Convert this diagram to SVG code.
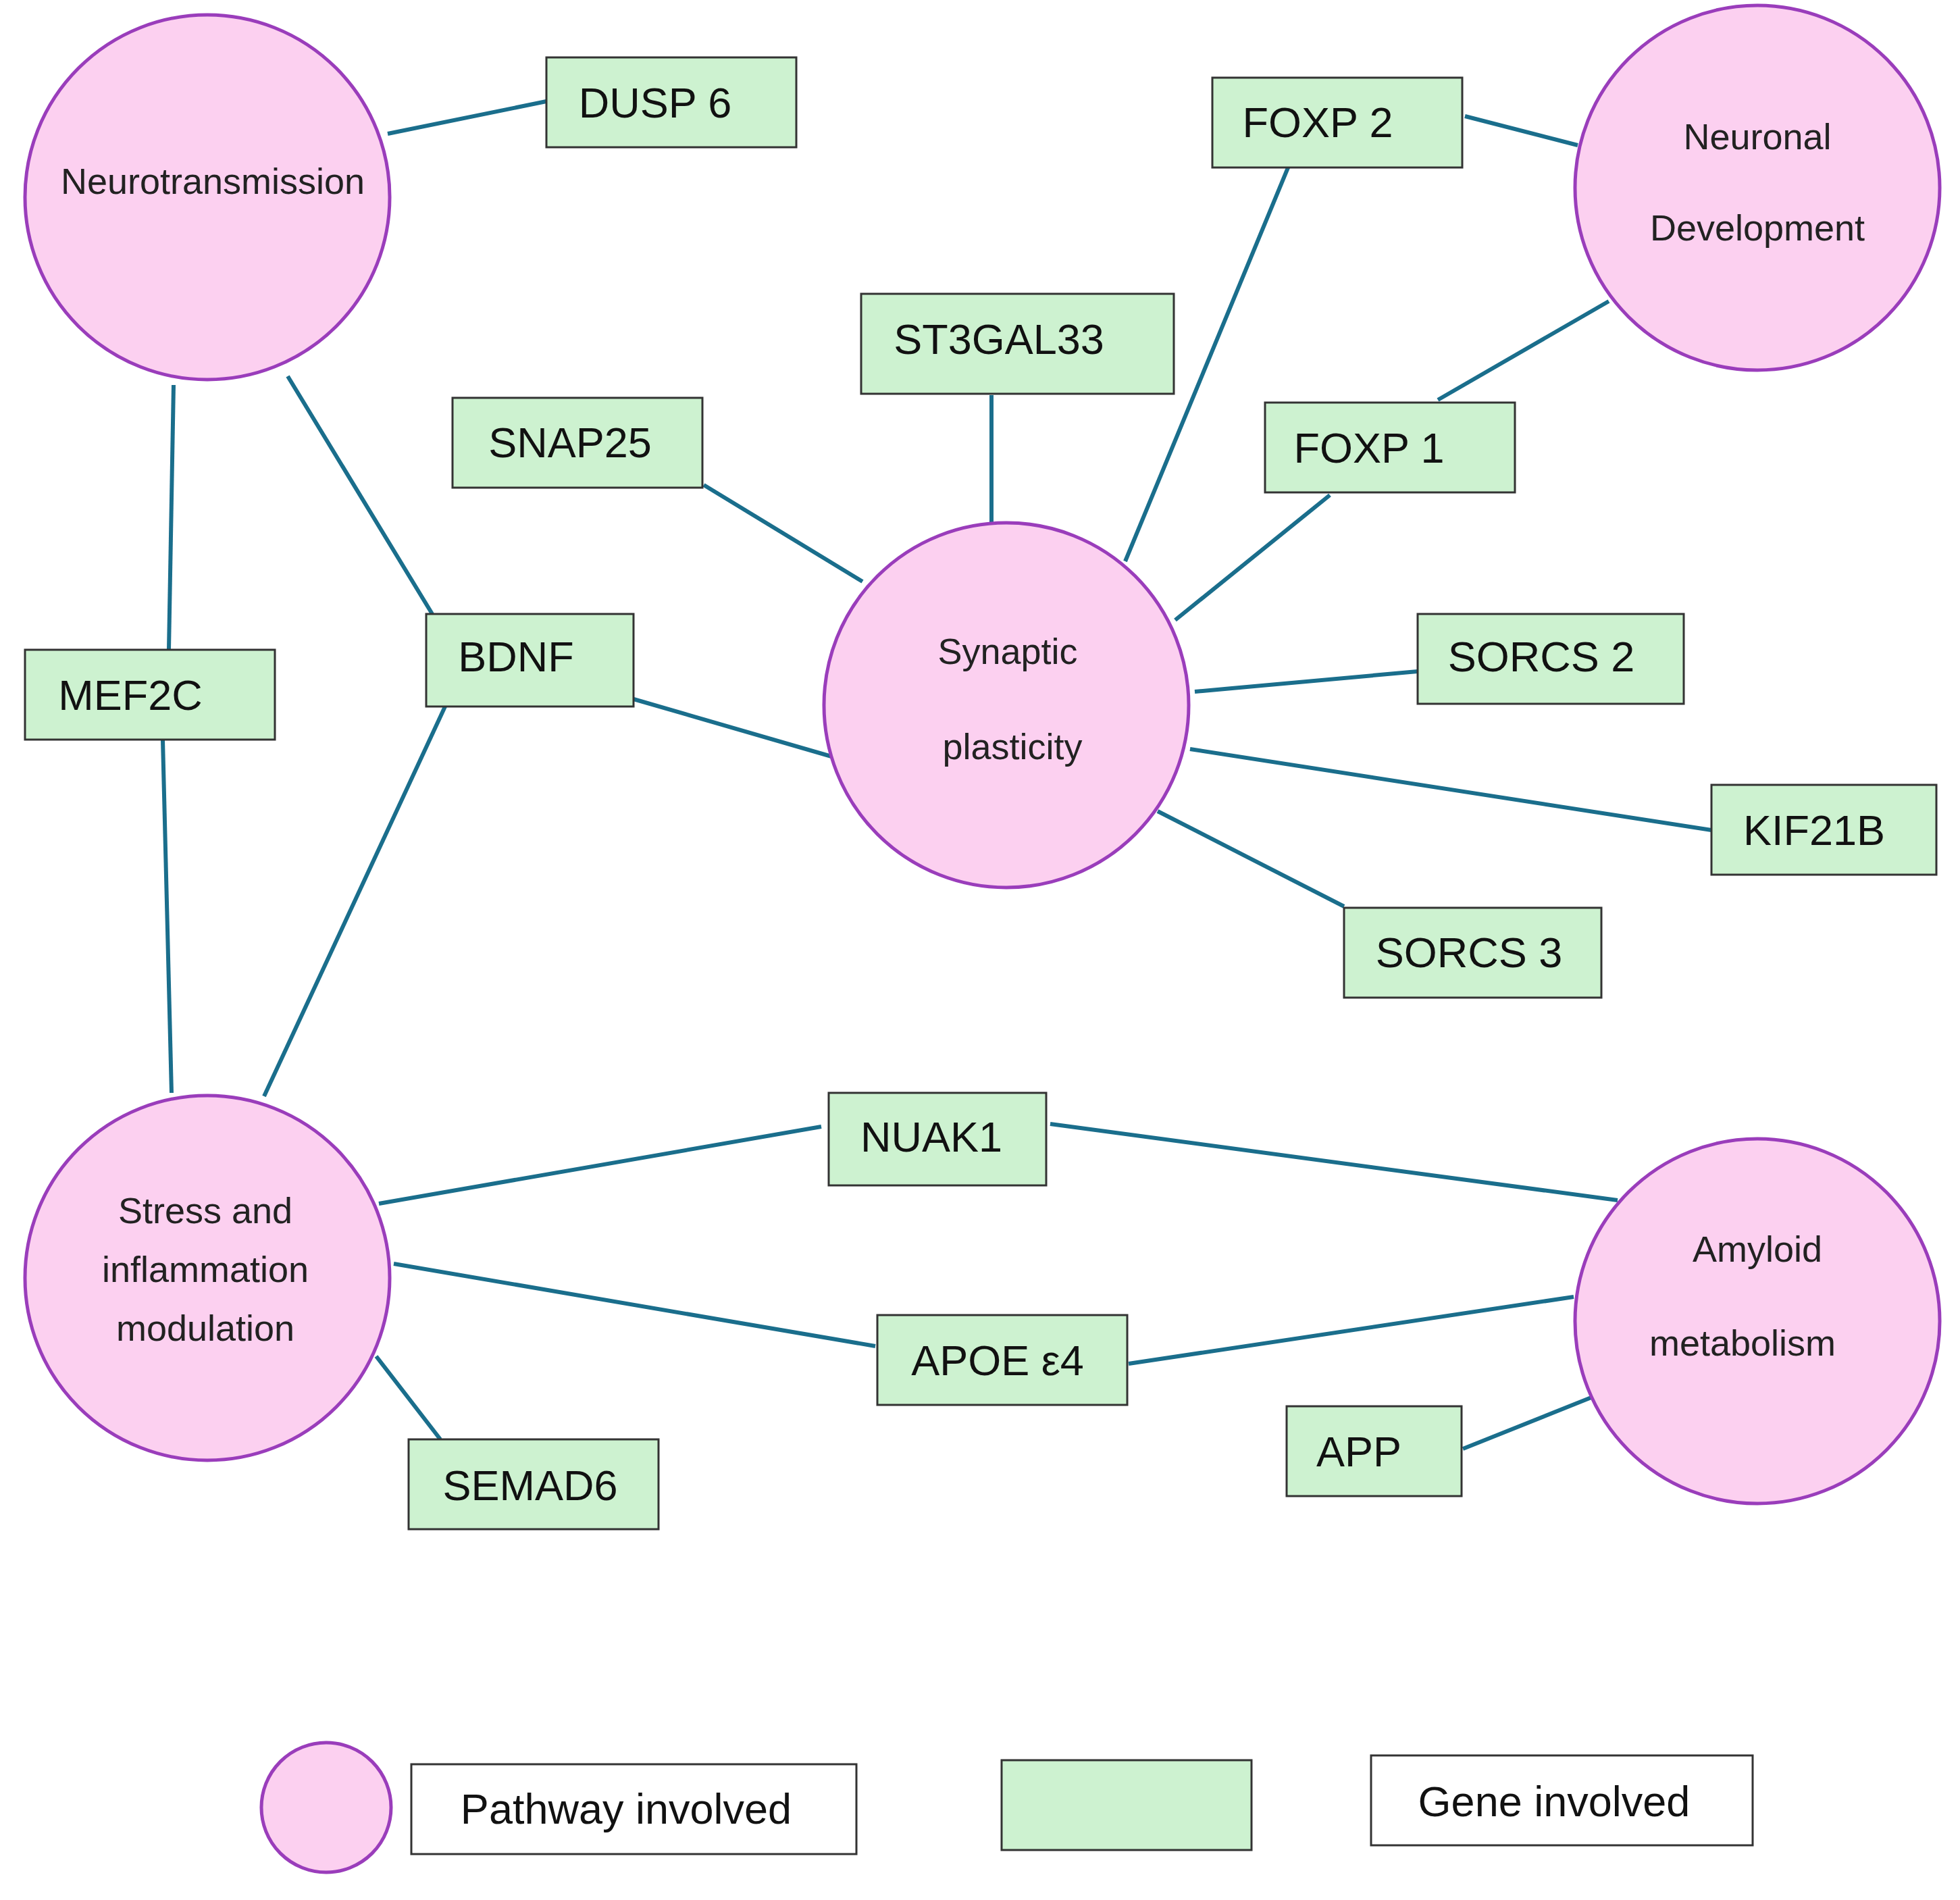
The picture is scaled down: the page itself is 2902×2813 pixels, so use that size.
<svg xmlns="http://www.w3.org/2000/svg" width="2902" height="2813" viewBox="0 0 2902 2813">
<style>
.p{fill:#fcd0f0;stroke:#9a3dbb;stroke-width:5}
.g{fill:#cdf2d0;stroke:#333;stroke-width:3}
.w{fill:#fff;stroke:#333;stroke-width:3}
.l{stroke:#1a6e8c;stroke-width:6;fill:none}
.ct{font-family:"Liberation Sans",Arial,sans-serif;font-size:54px;fill:#222;text-anchor:middle;dominant-baseline:central}
.bt{font-family:"Liberation Sans",Arial,sans-serif;font-size:63px;fill:#111;text-anchor:middle;dominant-baseline:central}
</style>
<rect width="2902" height="2813" fill="#fff"/>
<g id="connectors">
<line class="l" x1="574" y1="198" x2="809" y2="150"/>
<line class="l" x1="2169" y1="172" x2="2336" y2="215"/>
<line class="l" x1="2382" y1="446" x2="2129" y2="592"/>
<line class="l" x1="1910" y1="241" x2="1666" y2="831"/>
<line class="l" x1="1468" y1="585" x2="1468" y2="774"/>
<line class="l" x1="1042" y1="718" x2="1277" y2="861"/>
<line class="l" x1="1969" y1="733" x2="1740" y2="918"/>
<line class="l" x1="1769" y1="1024" x2="2099" y2="994"/>
<line class="l" x1="1762" y1="1109" x2="2534" y2="1229"/>
<line class="l" x1="1714" y1="1201" x2="1990" y2="1342"/>
<line class="l" x1="938" y1="1035" x2="1238" y2="1122"/>
<line class="l" x1="426" y1="557" x2="640" y2="909"/>
<line class="l" x1="257" y1="570" x2="250" y2="962"/>
<line class="l" x1="241" y1="1096" x2="254" y2="1618"/>
<line class="l" x1="659" y1="1046" x2="391" y2="1623"/>
<line class="l" x1="561" y1="1782" x2="1216" y2="1668"/>
<line class="l" x1="1555" y1="1664" x2="2395" y2="1777"/>
<line class="l" x1="583" y1="1871" x2="1296" y2="1993"/>
<line class="l" x1="1671" y1="2019" x2="2330" y2="1920"/>
<line class="l" x1="2166" y1="2145" x2="2356" y2="2069"/>
<line class="l" x1="557" y1="2008" x2="652" y2="2131"/>
</g>
<g id="neurotransmission"><circle class="p" cx="307" cy="292" r="270"/><text class="ct" x="315" y="268">Neurotransmission</text></g>
<g id="neuronal"><circle class="p" cx="2602" cy="278" r="270"/><text class="ct" x="2602" y="202">Neuronal</text><text class="ct" x="2602" y="337">Development</text></g>
<g id="synaptic"><circle class="p" cx="1490" cy="1044" r="270"/><text class="ct" x="1492" y="964">Synaptic</text><text class="ct" x="1499" y="1105">plasticity</text></g>
<g id="stress"><circle class="p" cx="307" cy="1892" r="270"/><text class="ct" x="304" y="1792">Stress and</text><text class="ct" x="304" y="1879">inflammation</text><text class="ct" x="304" y="1966">modulation</text></g>
<g id="amyloid"><circle class="p" cx="2602" cy="1956" r="270"/><text class="ct" x="2602" y="1849">Amyloid</text><text class="ct" x="2580" y="1988">metabolism</text></g>
<g id="dusp6"><rect class="g" x="809" y="85" width="370" height="133"/><text class="bt" x="970" y="152">DUSP 6</text></g>
<g id="foxp2"><rect class="g" x="1795" y="115" width="370" height="133"/><text class="bt" x="1951" y="181">FOXP 2</text></g>
<g id="st3gal33"><rect class="g" x="1275" y="435" width="463" height="148"/><text class="bt" x="1479" y="502">ST3GAL33</text></g>
<g id="snap25"><rect class="g" x="670" y="589" width="370" height="133"/><text class="bt" x="844" y="655">SNAP25</text></g>
<g id="foxp1"><rect class="g" x="1873" y="596" width="370" height="133"/><text class="bt" x="2027" y="663">FOXP 1</text></g>
<g id="bdnf"><rect class="g" x="631" y="909" width="307" height="137"/><text class="bt" x="764" y="972">BDNF</text></g>
<g id="mef2c"><rect class="g" x="37" y="962" width="370" height="133"/><text class="bt" x="193" y="1029">MEF2C</text></g>
<g id="sorcs2"><rect class="g" x="2099" y="909" width="394" height="133"/><text class="bt" x="2282" y="972">SORCS 2</text></g>
<g id="kif21b"><rect class="g" x="2534" y="1162" width="333" height="133"/><text class="bt" x="2686" y="1229">KIF21B</text></g>
<g id="sorcs3"><rect class="g" x="1990" y="1344" width="381" height="133"/><text class="bt" x="2175" y="1410">SORCS 3</text></g>
<g id="nuak1"><rect class="g" x="1227" y="1618" width="322" height="137"/><text class="bt" x="1379" y="1683">NUAK1</text></g>
<g id="apoe4"><rect class="g" x="1299" y="1947" width="370" height="133"/><text class="bt" x="1477" y="2014">APOE ε4</text></g>
<g id="app"><rect class="g" x="1905" y="2082" width="259" height="133"/><text class="bt" x="2012" y="2149">APP</text></g>
<g id="semad6"><rect class="g" x="605" y="2131" width="370" height="133"/><text class="bt" x="785" y="2199">SEMAD6</text></g>
<g id="legend">
<circle class="p" cx="483" cy="2676" r="96"/>
<rect class="w" x="609" y="2612" width="659" height="133"/><text class="bt" x="927" y="2678">Pathway involved</text>
<rect class="g" x="1483" y="2606" width="370" height="133"/>
<rect class="w" x="2030" y="2599" width="565" height="133"/><text class="bt" x="2301" y="2667">Gene involved</text>
</g>
</svg>
